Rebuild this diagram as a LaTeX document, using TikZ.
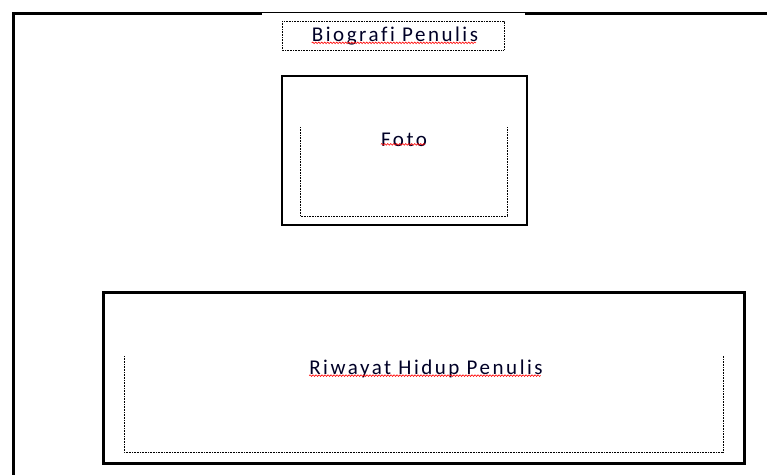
\documentclass[tikz,border=0pt]{standalone}
\usepackage{fontspec}
\setmainfont[LetterSpace=12,Ligatures=NoCommon]{Carlito}
\usetikzlibrary{decorations.pathmorphing}
\begin{document}
\begin{tikzpicture}[x=1pt,y=-1pt,
  thickframe/.style={line width=3pt},
  thinframe/.style={line width=1.8pt},
  midframe/.style={line width=1.4pt},
  dotline/.style={line width=1pt,dash pattern=on 0.8pt off 0.8pt},
  label/.style={font=\fontsize{21}{25}\selectfont,text=black!85!blue,inner sep=0pt,anchor=base},
  spell/.style={red,line width=0.6pt,decorate,decoration={snake,amplitude=0.8pt,segment length=3pt}}]
\useasboundingbox (0,0) rectangle (767,474);
% outer frame
\coordinate (fbl) at (13,476);
\coordinate (ftl) at (13,13);
\coordinate (fa) at (262,13);
\coordinate (fb) at (525,13);
\coordinate (ftr) at (769,13);
\draw[thickframe] (fbl) -- (ftl) -- (fa);
\draw[thinframe] ([yshift=0.5pt]fa) -- ([yshift=0.5pt]fb);
\draw[thickframe] (fb) -- (ftr);
% title box
\draw[dotline] (282,21) rectangle (504,50);
\node[label] (title) at (395,41) {Biografi Penulis};
\draw[spell] ([yshift=2pt]title.south west) -- ([yshift=2pt,xshift=-2pt]title.south east);
% foto box
\draw[midframe] (282,76) rectangle (527,225);
\draw[dotline] (300,127) -- (300,216) -- (507,216) -- (507,127);
\node[label] (foto) at (404,146) {Foto};
\draw[spell] ([yshift=2pt]foto.south west) -- ([yshift=2pt,xshift=-2pt]foto.south east);
% riwayat box
\draw[thickframe] (103,292) rectangle (744,463);
\draw[dotline] (124,356) -- (124,452) -- (723,452) -- (723,356);
\node[label] (riwayat) at (426,374) {Riwayat Hidup Penulis};
\draw[spell] ([yshift=2pt]riwayat.south west) -- ([yshift=2pt,xshift=-2pt]riwayat.south east);
\end{tikzpicture}
\end{document}
